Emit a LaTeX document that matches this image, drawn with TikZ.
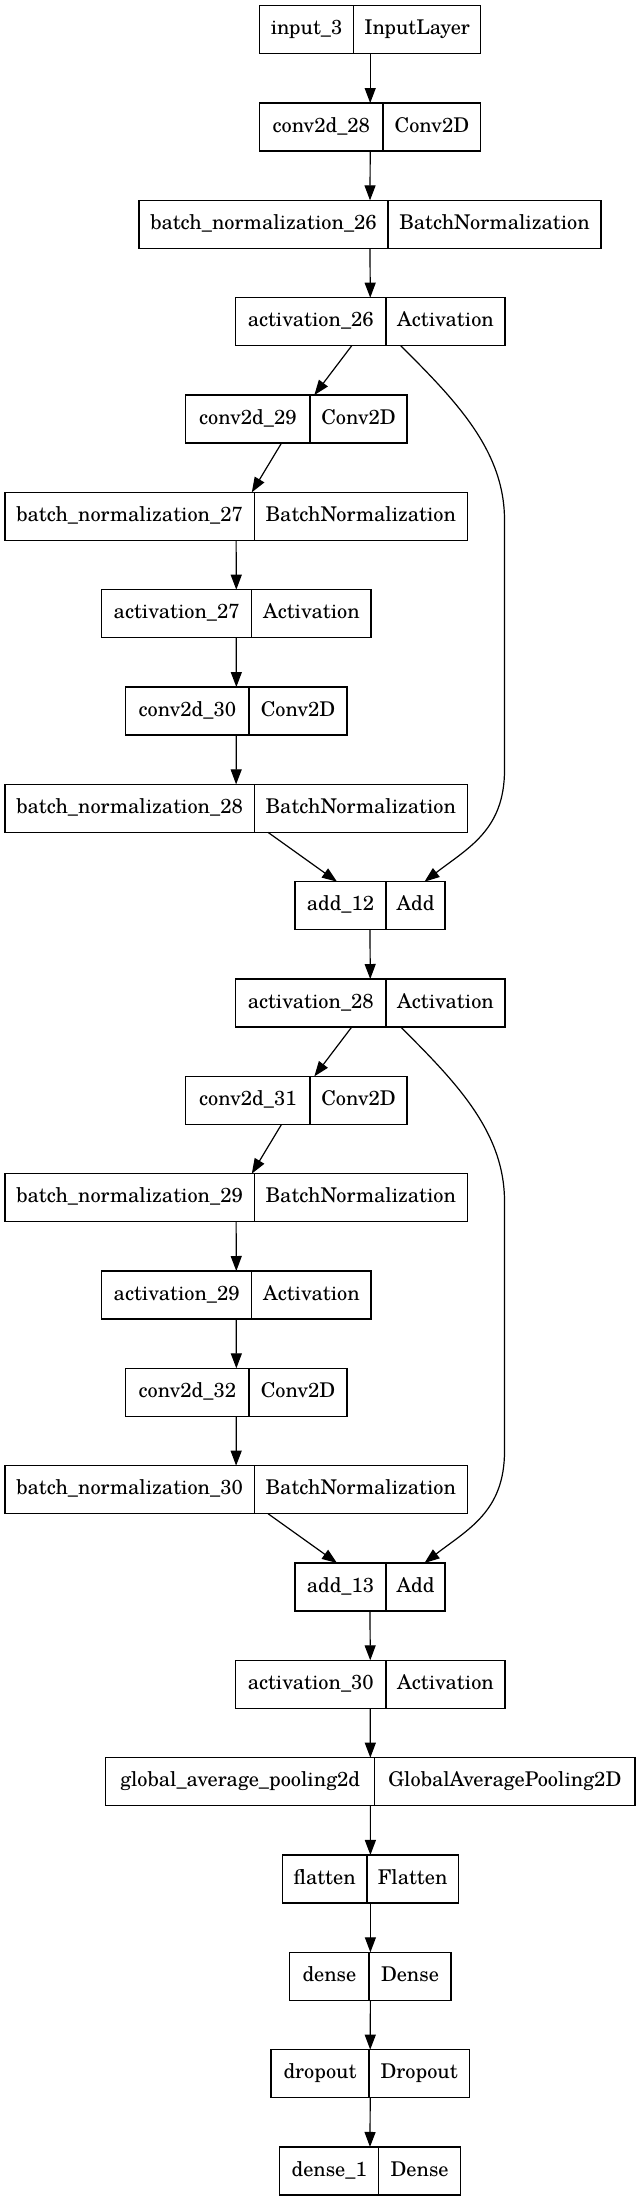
\documentclass[tikz,border=0pt]{standalone}
\usepackage{fontspec}
\setmainfont{texgyreschola-regular.otf}
\usetikzlibrary{arrows.meta}
\tikzset{
  box/.style={draw=black, line width=1.2pt, rectangle, inner sep=0pt, outer sep=0pt, minimum height=48pt},
  boxline/.style={draw=black, line width=1.2pt},
  lbl/.style={anchor=base, inner sep=0pt, font=\fontsize{20.3}{24}\selectfont},
  arr/.style={draw=black, line width=1.2pt, -{Triangle[length=15pt,width=11pt]}}
}
\newcommand\layer[7]{%
  \pgfmathsetmacro\lyY{-(5.7+97.33*#2+24)}%
  \pgfmathsetmacro\lyX{(#3+#5)/2}%
  \pgfmathsetmacro\lyW{#5-#3}%
  \node[box, minimum width=\lyW pt] (#1) at (\lyX,\lyY) {};
  \draw[boxline] (#4,\lyY+24) -- (#4,\lyY-24);
  \node[lbl] (#1-a) at ({(#3+#4)/2},\lyY-5.2) {#6};
  \node[lbl] (#1-b) at ({(#4+#5)/2},\lyY-5.2) {#7};
}
\begin{document}
\begin{tikzpicture}[x=1pt,y=1pt]
\useasboundingbox (0,0) rectangle (637,-2201);
\fill[white] (0,0) rectangle (637,-2201);
\layer{in3}{0}{259.6}{353.5}{480.8}{input\_3}{InputLayer}
\layer{c28}{1}{259.6}{383}{480.8}{conv2d\_28}{Conv2D}
\layer{b26}{2}{139}{388}{601}{batch\_normalization\_26}{BatchNormalization}
\layer{a26}{3}{235.5}{386}{505}{activation\_26}{Activation}
\layer{c29}{4}{185.7}{310}{407}{conv2d\_29}{Conv2D}
\layer{b27}{5}{4.9}{254.3}{467.3}{batch\_normalization\_27}{BatchNormalization}
\layer{a27}{6}{101.6}{251.8}{371}{activation\_27}{Activation}
\layer{c30}{7}{125.7}{249}{347}{conv2d\_30}{Conv2D}
\layer{b28}{8}{4.9}{254.3}{467.3}{batch\_normalization\_28}{BatchNormalization}
\layer{ad12}{9}{295}{386}{445}{add\_12}{Add}
\layer{a28}{10}{235.5}{386}{505}{activation\_28}{Activation}
\layer{c31}{11}{185.7}{310}{407}{conv2d\_31}{Conv2D}
\layer{b29}{12}{4.9}{254.3}{467.3}{batch\_normalization\_29}{BatchNormalization}
\layer{a29}{13}{101.6}{251.8}{371}{activation\_29}{Activation}
\layer{c32}{14}{125.7}{249}{347}{conv2d\_32}{Conv2D}
\layer{b30}{15}{4.9}{254.3}{467.3}{batch\_normalization\_30}{BatchNormalization}
\layer{ad13}{16}{295}{386}{445}{add\_13}{Add}
\layer{a30}{17}{235.5}{386}{505}{activation\_30}{Activation}
\layer{gap}{18}{105.7}{374.7}{635}{global\_average\_pooling2d}{GlobalAveragePooling2D}
\layer{fl}{19}{282.4}{367}{458.4}{flatten}{Flatten}
\layer{de}{20}{289.8}{369}{451}{dense}{Dense}
\layer{dr}{21}{271}{369}{469.4}{dropout}{Dropout}
\layer{de1}{22}{279.6}{378.8}{460.4}{dense\_1}{Dense}
% main chain
\draw[arr] (in3.south) -- (c28.north);
\draw[arr] (c28.south) -- (b26.north);
\draw[arr] (b26.south) -- (a26.north);
\draw[arr] ([xshift=-18.5pt]a26.south) -- ([xshift=18pt]c29.north);
\draw[arr] ([xshift=-14.8pt]c29.south) -- ([xshift=15.7pt]b27.north);
\draw[arr] (b27.south) -- (a27.north);
\draw[arr] (a27.south) -- (c30.north);
\draw[arr] (c30.south) -- (b28.north);
\draw[arr] ([xshift=31.9pt]b28.south) -- ([xshift=-33pt]ad12.north);
\draw[arr] ([xshift=30.5pt]a26.south) .. controls (455,-400) and (504.5,-450) .. (504.5,-520)
   -- (504.5,-770) .. controls (504.5,-830) and (468,-848) .. ([xshift=54.5pt]ad12.north);
\draw[arr] (ad12.south) -- (a28.north);
\draw[arr] ([xshift=-18.5pt]a28.south) -- ([xshift=18pt]c31.north);
\draw[arr] ([xshift=-14.8pt]c31.south) -- ([xshift=15.7pt]b29.north);
\draw[arr] (b29.south) -- (a29.north);
\draw[arr] (a29.south) -- (c32.north);
\draw[arr] (c32.south) -- (b30.north);
\draw[arr] ([xshift=31.9pt]b30.south) -- ([xshift=-33pt]ad13.north);
\draw[arr] ([xshift=30.5pt]a28.south) .. controls (455,-1081.3) and (504.5,-1131.3) .. (504.5,-1201.3)
   -- (504.5,-1451.3) .. controls (504.5,-1511.3) and (468,-1529.3) .. ([xshift=54.5pt]ad13.north);
\draw[arr] (ad13.south) -- (a30.north);
\draw[arr] (a30.south) -- (gap.north);
\draw[arr] (gap.south) -- (fl.north);
\draw[arr] (fl.south) -- (de.north);
\draw[arr] (de.south) -- (dr.north);
\draw[arr] (dr.south) -- (de1.north);
\end{tikzpicture}
\end{document}
